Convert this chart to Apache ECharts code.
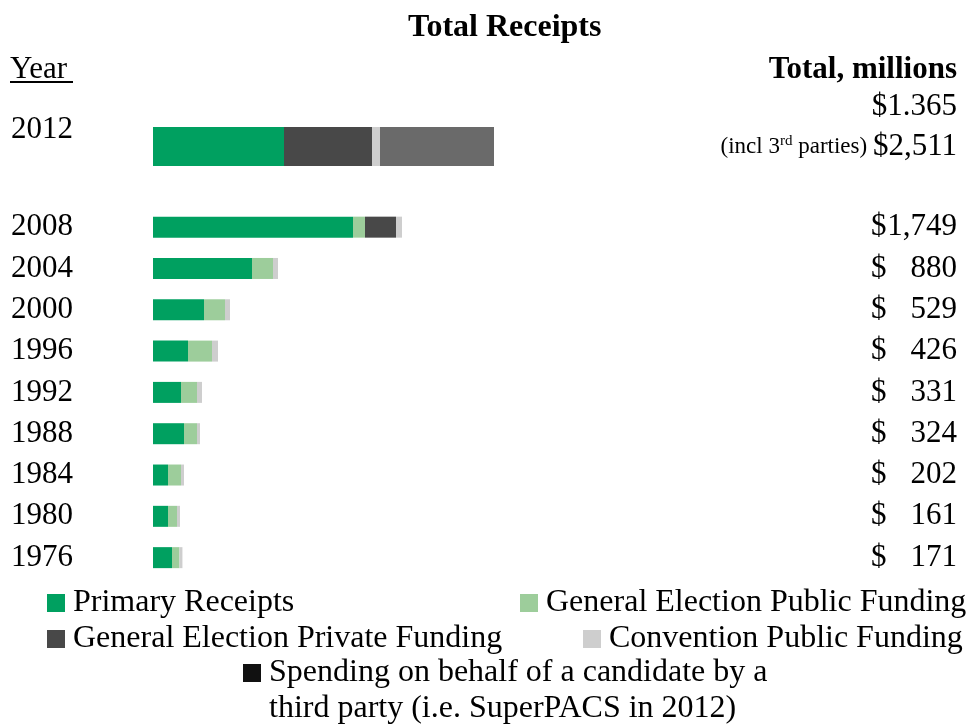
<!DOCTYPE html>
<html>
<head>
<meta charset="utf-8">
<script src="https://cdn.jsdelivr.net/npm/echarts@6/dist/echarts.min.js"></script>
<style>
  html, body { margin: 0; padding: 0; background: #fff; }
  #chart { width: 970px; height: 725px; }
</style>
</head>
<body>
<div id="chart"></div>
<script>
// Presidential campaign receipts, millions of dollars
const years = ['1976', '1980', '1984', '1988', '1992', '1996', '2000', '2004', '2008'];
const primaryReceipts = [133, 105, 105, 217, 196, 245, 357, 693, 1400];
const generalPublicFunding = [52, 63, 91, 91, 112, 168, 147, 147, 84];
const generalPrivateFunding = [0, 0, 0, 0, 0, 0, 0, 0, 217];
const conventionPublicFunding = [21, 21, 21, 21, 35, 42, 35, 35, 42];
const totalLabels = ['171', '161', '202', '324', '331', '426', '529', '880', '1,749'];

// 2012 is drawn on its own, wider row
const year2012 = ['2012'];
const primary2012 = [917];
const generalPublic2012 = [0];
const generalPrivate2012 = [616];
const convention2012 = [56];
const thirdParty2012 = [798];
const total2012 = '1.365';
const totalWithThirdParty2012 = '2,511';

const seriesNames = [
  'Primary Receipts',
  'General Election Public Funding',
  'General Election Private Funding',
  'Convention Public Funding',
  'Spending on behalf of a candidate by a third party (i.e. SuperPACS in 2012)'
];
const colors = ['#00a060', '#9dcd9b', '#484848', '#cecece', '#6a6a6a'];

const FONT = "'Liberation Serif', 'Times New Roman', serif";
const X_MAX = 3500;

const chart = echarts.init(document.getElementById('chart'));

const moneyRich = {
  d: { fontFamily: FONT, fontSize: 31, color: '#000', width: 16, align: 'left' },
  n: { fontFamily: FONT, fontSize: 31, color: '#000', width: 70, align: 'right' }
};

// 2012 totals: every token packed from the right edge
const rich2012 = {
  d: { fontFamily: FONT, fontSize: 31, color: '#000', lineHeight: 40, align: 'right' },
  s: { fontFamily: FONT, fontSize: 23, color: '#000', lineHeight: 40, align: 'right' },
  sup: { fontFamily: FONT, fontSize: 15, color: '#000', lineHeight: 40, align: 'right', padding: [0, 0, 10, 0] }
};

function stackSeries(gridIdx, values, barWidth) {
  return values.map((vals, i) => ({
    name: seriesNames[i],
    type: 'bar',
    stack: 'total' + gridIdx,
    xAxisIndex: gridIdx,
    yAxisIndex: gridIdx,
    barWidth: barWidth,
    data: vals,
    itemStyle: { color: colors[i] },
    emphasis: { disabled: true },
    silent: true
  }));
}

const legendBase = {
  orient: 'horizontal',
  icon: 'rect',
  itemWidth: 18,
  itemHeight: 18,
  padding: 0,
  selectedMode: false,
  textStyle: { fontFamily: FONT, fontSize: 32, color: '#000', padding: [0, 0, 0, 3] }
};

const option = {
  animation: false,
  backgroundColor: '#fff',
  title: [
    { text: 'Total Receipts', left: 408, top: 12, padding: 0,
      textStyle: { fontFamily: FONT, fontSize: 32, fontWeight: 'bold', color: '#000' } },
    { text: 'Year', left: 10, top: 54, padding: 0,
      textStyle: { fontFamily: FONT, fontSize: 31, fontWeight: 'normal', color: '#000' } },
    { text: 'Total, millions', right: 13, top: 54, padding: 0,
      textStyle: { fontFamily: FONT, fontSize: 31, fontWeight: 'bold', color: '#000' } }
  ],
  graphic: [
    { type: 'line', shape: { x1: 10, y1: 82, x2: 73, y2: 82 },
      style: { stroke: '#000', lineWidth: 2 } }
  ],
  legend: [
    Object.assign({}, legendBase, { left: 47, top: 587, data: [seriesNames[0]] }),
    Object.assign({}, legendBase, { left: 520, top: 587, data: [seriesNames[1]] }),
    Object.assign({}, legendBase, { left: 47, top: 623, data: [seriesNames[2]] }),
    Object.assign({}, legendBase, { left: 583, top: 623, data: [seriesNames[3]] }),
    Object.assign({}, legendBase, {
      left: 243, top: 655,
      // square swatch at the top of a tall icon box so it sits beside the first text line
      icon: 'path://M0,0H18V18H0Z M0,53.99H0.01V54H0Z',
      itemHeight: 54,
      data: [{ name: seriesNames[4], itemStyle: { color: '#111' } }],
      formatter: () => 'Spending on behalf of a candidate by a\nthird party (i.e. SuperPACS in 2012)',
      textStyle: { fontFamily: FONT, fontSize: 32, color: '#000', lineHeight: 36, padding: [0, 0, 0, 3] }
    })
  ],
  grid: [
    { left: 153, width: 500, top: 116.5, height: 60 },
    { left: 153, width: 500, top: 206.5, height: 371.8 }
  ],
  xAxis: [
    { gridIndex: 0, type: 'value', min: 0, max: X_MAX, show: false },
    { gridIndex: 1, type: 'value', min: 0, max: X_MAX, show: false }
  ],
  yAxis: [
    { gridIndex: 0, type: 'category', data: year2012, position: 'left',
      axisLine: { show: false }, axisTick: { show: false }, splitLine: { show: false },
      axisLabel: { align: 'left', margin: 142,
        formatter: (v) => '{y|' + v + '}\n{y| }',
        rich: { y: { fontFamily: FONT, fontSize: 31, color: '#000', lineHeight: 33 } } } },
    { gridIndex: 1, type: 'category', data: years, position: 'left',
      axisLine: { show: false }, axisTick: { show: false }, splitLine: { show: false },
      axisLabel: { align: 'left', margin: 142, interval: 0,
        fontFamily: FONT, fontSize: 31, color: '#000' } },
    { gridIndex: 0, type: 'category', data: year2012, position: 'right',
      axisLine: { show: false }, axisTick: { show: false }, splitLine: { show: false },
      axisLabel: { align: 'right', margin: 304,
        formatter: () => '{d|$' + total2012 + '}\n{s|(incl 3}{sup|rd}{s| parties) }{d|$' + totalWithThirdParty2012 + '}\n{d| }',
        rich: rich2012 } },
    { gridIndex: 1, type: 'category', data: totalLabels, position: 'right',
      axisLine: { show: false }, axisTick: { show: false }, splitLine: { show: false },
      axisLabel: { align: 'right', margin: 304, interval: 0,
        formatter: (v) => '{d|$}{n|' + v + '}',
        rich: moneyRich } }
  ],
  series: [].concat(
    stackSeries(1, [primaryReceipts, generalPublicFunding, generalPrivateFunding, conventionPublicFunding], 21),
    stackSeries(0, [primary2012, generalPublic2012, generalPrivate2012, convention2012, thirdParty2012], 39)
  )
};

chart.setOption(option);
</script>
</body>
</html>
